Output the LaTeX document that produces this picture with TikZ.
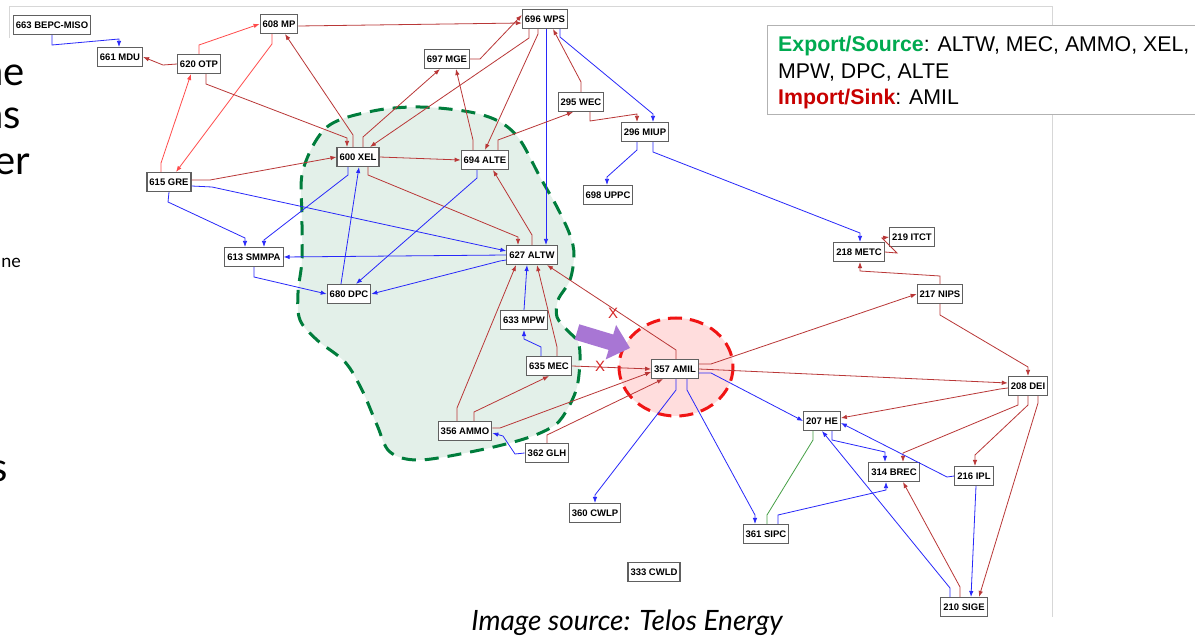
\documentclass[tikz,border=0pt]{standalone}
\usepackage{fontspec}
\setmainfont{Liberation Sans}
\newfontfamily\latofont{Lato}
\usetikzlibrary{arrows.meta}
\definecolor{dkred}{RGB}{185,55,55}
\definecolor{brred}{RGB}{255,75,75}
\definecolor{eblue}{RGB}{40,40,250}
\definecolor{egreen}{RGB}{70,160,70}
\definecolor{hullgreen}{RGB}{0,125,60}
\definecolor{hullfill}{RGB}{227,240,233}
\definecolor{amilfill}{RGB}{255,221,221}
\definecolor{amilred}{RGB}{240,20,20}
\definecolor{arrowpurple}{RGB}{168,118,212}
\definecolor{legendgreen}{RGB}{0,170,80}
\definecolor{legendred}{RGB}{200,0,0}
\definecolor{framegray}{RGB}{215,215,215}
\definecolor{xred}{RGB}{215,40,40}
\tikzset{
  bus/.style={draw=gray!75!black, line width=1.1pt, fill=white,
    font=\fontsize{9.5}{10}\selectfont\bfseries, inner xsep=2.5pt, inner ysep=0pt,
    minimum height=19pt},
  flow/.style={line width=0.8pt, -{Latex[length=6pt,width=4.5pt]}},
  rd/.style={flow, draw=dkred},
  br/.style={flow, draw=brred},
  bl/.style={flow, draw=eblue},
  gr/.style={line width=0.8pt, draw=egreen},
  bigtxt/.style={font=\latofont\fontsize{40}{40}\selectfont, inner sep=0pt, anchor=base east},
  xmark/.style={font=\fontsize{15}{15}\selectfont, text=xred, inner sep=0pt},
  legtxt/.style={font=\fontsize{21.3}{21.3}\selectfont, inner sep=0pt, anchor=base west}
}
\begin{document}
\begin{tikzpicture}[x=1pt,y=-1pt]
\useasboundingbox (0,0) rectangle (1195,636);
\fill[white] (0,0) rectangle (1195,636);
% frame of the embedded image
\draw[framegray, line width=1pt] (9,38) -- (9,7) -- (1052,7) -- (1052,617);
% hulls
\draw[hullgreen, fill=hullfill, line width=3pt, dash pattern=on 14pt off 9pt]
  plot[smooth cycle, tension=0.55] coordinates {(303,170) (327,127) (373,111) (420,107) (470,112) (500,122) (520,140) (540,177) (557,207) (570,235) (574,255) (570,280) (558,300) (557,317) (567,330) (578,342) (580,360) (577,387) (568,408) (555,425) (527,438) (480,450) (420,460) (390,452) (377,425) (362,390) (345,362) (317,340) (300,320) (298,293) (302,260) (302,217)};
\draw[amilred, fill=amilfill, line width=3pt, dash pattern=on 14pt off 8pt]
  (676,367) ellipse [x radius=57, y radius=49];
% nodes
\node[bus] (bepc) at (52,25) {663 BEPC-MISO};
\node[bus] (mdu) at (120,57) {661 MDU};
\node[bus] (otp) at (199,64) {620 OTP};
\node[bus] (mp) at (279,24) {608 MP};
\node[bus] (wps) at (545,19) {696 WPS};
\node[bus] (mge) at (447,59) {697 MGE};
\node[bus] (wec) at (581,102) {295 WEC};
\node[bus] (miup) at (645,132) {296 MIUP};
\node[bus] (uppc) at (608,195) {698 UPPC};
\node[bus] (xel) at (358,157) {600 XEL};
\node[bus] (alte) at (485,160) {694 ALTE};
\node[bus] (gre) at (169,182) {615 GRE};
\node[bus] (smmpa) at (254,257) {613 SMMPA};
\node[bus] (altw) at (532,255) {627 ALTW};
\node[bus] (dpc) at (349,294) {680 DPC};
\node[bus] (mpw) at (524,320) {633 MPW};
\node[bus] (mec) at (549,366) {635 MEC};
\node[bus] (amil) at (675,369) {357 AMIL};
\node[bus] (ammo) at (465,431) {356 AMMO};
\node[bus] (glh) at (547,453) {362 GLH};
\node[bus] (cwlp) at (595,513) {360 CWLP};
\node[bus] (cwld) at (654,572) {333 CWLD};
\node[bus] (metc) at (859,252) {218 METC};
\node[bus] (itct) at (912,237) {219 ITCT};
\node[bus] (nips) at (940,294) {217 NIPS};
\node[bus] (dei) at (1028,386) {208 DEI};
\node[bus] (he) at (822,421) {207 HE};
\node[bus] (brec) at (894,472) {314 BREC};
\node[bus] (ipl) at (974,476) {216 IPL};
\node[bus] (sipc) at (766,534) {361 SIPC};
\node[bus] (sige) at (964,607) {210 SIGE};
% connectors
\draw[bl] (bepc.south) -- (52,45) -- (119,39) -- ([xshift=-1pt]mdu.north);
\draw[rd] (otp.west) -- (163,65) -- (mdu.east);
\draw[br] (otp.north) -- (199,45) -- (mp.west);
\draw[br] ([xshift=-8pt]gre.north) -- (161,163) -- ([xshift=-8pt]otp.south);
\draw[br] ([xshift=-7pt]mp.south) -- (272,44) -- ([xshift=7pt]gre.north);
\draw[rd] ([xshift=7pt]otp.south) -- (206,84) -- (347,138) -- ([xshift=-11pt]xel.north);
\draw[rd] ([xshift=-5pt]xel.north) -- (353,135) -- ([xshift=6pt]mp.south);
\draw[rd] ([yshift=-2pt]mp.east) -- ([yshift=-4pt]wps.west);
\draw[rd] (mge.east) -- (480,59) -- ([yshift=4pt]wps.west);
\draw[rd] ([xshift=5pt]xel.north) -- (363,137) -- ([xshift=-7pt]mge.south);
\draw[rd] ([xshift=-12pt]alte.north) -- (473,140) -- ([xshift=9pt]mge.south);
\draw[rd] ([xshift=-16pt]wps.south) -- (529,38) -- ([xshift=12pt]xel.north);
\draw[rd] ([xshift=-7pt]wps.south) -- (538,34) -- (alte.north);
\draw[bl] ([xshift=1pt]wps.south) -- ([xshift=14pt]altw.north);
\draw[rd] (wec.north) -- (581,82) -- ([xshift=8pt]wps.south);
\draw[bl] ([xshift=15pt]wps.south) -- (560,37) -- (653,114) -- ([xshift=8pt]miup.north);
\draw[rd] ([xshift=13pt]alte.north) -- (498,140) -- ([xshift=-8pt]wec.south);
\draw[rd] ([xshift=9pt]wec.south) -- (590,121) -- (637,114) -- ([xshift=-8pt]miup.north);
\draw[rd] (xel.east) -- (alte.west);
\draw[rd] ([yshift=2pt]gre.east) -- (210,180) -- (xel.west);
\draw[bl] ([yshift=-4pt]gre.east) -- (212,187) -- ([yshift=4pt]altw.west);
\draw[bl] (gre.south) -- (168,202) -- (245,238) -- ([xshift=-9pt]smmpa.north);
\draw[bl] ([xshift=-10pt]xel.south) -- (348,175) -- (264,240) -- ([xshift=10pt]smmpa.north);
\draw[bl] ([xshift=-8pt]dpc.north) -- ([xshift=1pt]xel.south);
\draw[rd] ([xshift=10pt]xel.south) -- (368,175) -- (518,237) -- ([xshift=-14pt]altw.north);
\draw[rd] (altw.north) -- (532,235) -- ([xshift=8pt]alte.south);
\draw[bl] ([xshift=-8pt]alte.south) -- (477,178) -- ([xshift=7pt]dpc.north);
\draw[bl] (altw.west) -- (smmpa.east);
\draw[bl] ([yshift=-5pt]altw.west) -- (500,261) -- (dpc.east);
\draw[bl] (smmpa.south) -- (254,277) -- (dpc.west);
\draw[rd] ([xshift=-8pt]ammo.north) -- (457,408) -- ([xshift=-16pt]altw.south);
\draw[bl] (mpw.north) -- ([xshift=-5pt]altw.south);
\draw[rd] ([xshift=8pt]mec.north) -- (557,347) -- ([xshift=5pt]altw.south);
\draw[rd] ([xshift=1pt]amil.north) -- (676,350) -- ([xshift=15pt]altw.south);
\draw[bl] ([xshift=-8pt]mec.north) -- (541,347) -- (524,339) -- (mpw.south);
\draw[rd] ([xshift=9pt]ammo.north) -- (474,412) -- (mec.south);
\draw[rd] (mec.east) -- (amil.west);
\draw[rd] ([yshift=3pt]ammo.east) -- (500,428) -- ([yshift=-3pt]amil.west);
\draw[rd] (glh.north) -- (547,435) -- ([xshift=-12pt]amil.south);
\draw[bl] (glh.west) -- (515,454) -- (503,436) -- ([yshift=-2pt]ammo.east);
\draw[bl] ([xshift=1pt]amil.south) -- (676,390) -- (595,495) -- (cwlp.north);
\draw[bl] ([xshift=12pt]amil.south) -- (687,390) -- (755,515) -- ([xshift=-11pt]sipc.north);
\draw[bl] ([yshift=-4pt]amil.east) -- (711,373) -- (he.west);
\draw[rd] ([yshift=5pt]amil.east) -- (711,364) -- (nips.west);
\draw[rd] (amil.east) -- ([yshift=3pt]dei.west);
\draw[rd] (nips.north) -- (940,276) -- (860,271) -- ([xshift=1pt]metc.south);
\draw[rd] (nips.south) -- (940,315) -- (1028,367) -- (dei.north);
\draw[rd] (metc.east) -- (897,253) -- (882,238) -- (itct.west);
\draw[bl] ([xshift=8pt]miup.south) -- (653,152) -- (860,233) -- ([xshift=1pt]metc.north);
\draw[bl] ([xshift=-8pt]miup.south) -- (637,150) -- (607,177) -- ([xshift=-1pt]uppc.north);
\draw[rd] ([yshift=-2pt]dei.west) -- (1000,389) -- ([yshift=3pt]he.east);
\draw[rd] ([xshift=-10pt]dei.south) -- (1018,405) -- (903,453) -- ([xshift=9pt]brec.north);
\draw[rd] (dei.south) -- (1028,405) -- (975,455) -- ([xshift=1pt]ipl.north);
\draw[rd] ([xshift=10pt]dei.south) -- (1038,403) -- ([xshift=15pt]sige.north);
\draw[bl] ([xshift=10pt]he.south) -- (832,440) -- (885,452) -- ([xshift=-9pt]brec.north);
\draw[bl] (ipl.west) -- (947,477) -- ([yshift=-2pt]he.east);
\draw[gr] ([xshift=-9pt]he.south) -- (813,440) -- (767,515) -- ([xshift=1pt]sipc.north);
\draw[bl] ([xshift=12pt]sipc.north) -- (778,515) -- (886,490) -- ([xshift=-8pt]brec.south);
\draw[bl] ([xshift=-14pt]sige.north) -- (950,588) -- (he.south);
\draw[rd] ([xshift=-4pt]sige.north) -- (960,587) -- ([xshift=9pt]brec.south);
\draw[bl] ([xshift=2pt]ipl.south) -- ([xshift=7pt]sige.north);
% X marks
\node[xmark] (x1) at (613,313) {X};
\node[xmark] (x2) at (600,366) {X};
% purple arrow
\fill[arrowpurple] (579.3,324.3) -- (613.2,334.5) -- (616.1,325) -- (630,348) -- (605.7,359.4) -- (608.6,349.9) -- (574.7,339.7) -- cycle;
% legend
\draw[gray!60, line width=1pt, fill=white] (767,26) rectangle (1205,115);
\node[legtxt] (leg1) at (778,52) {\textcolor{legendgreen}{\bfseries Export/Source}: ALTW, MEC, AMMO, XEL,};
\node[legtxt] (leg2) at (778,79) {MPW, DPC, ALTE};
\node[legtxt] (leg3) at (778,105) {\textcolor{legendred}{\bfseries Import/Sink}: AMIL};
% caption
\node[font=\latofont\itshape\fontsize{28}{28}\selectfont, inner sep=0pt, anchor=base] (cap) at (627,630) {Image source: Telos Energy};
% slide text fragments at the left edge
\node[bigtxt] (f1) at (25,86) {ne};
\node[bigtxt] (f2) at (21,129) {ns};
\node[bigtxt] (f3) at (30,175) {er};
\node[bigtxt, font=\latofont\fontsize{18}{18}\selectfont] (f4) at (21,268) {ne};
\node[bigtxt] (f5) at (8,482) {s};
\end{tikzpicture}
\end{document}
